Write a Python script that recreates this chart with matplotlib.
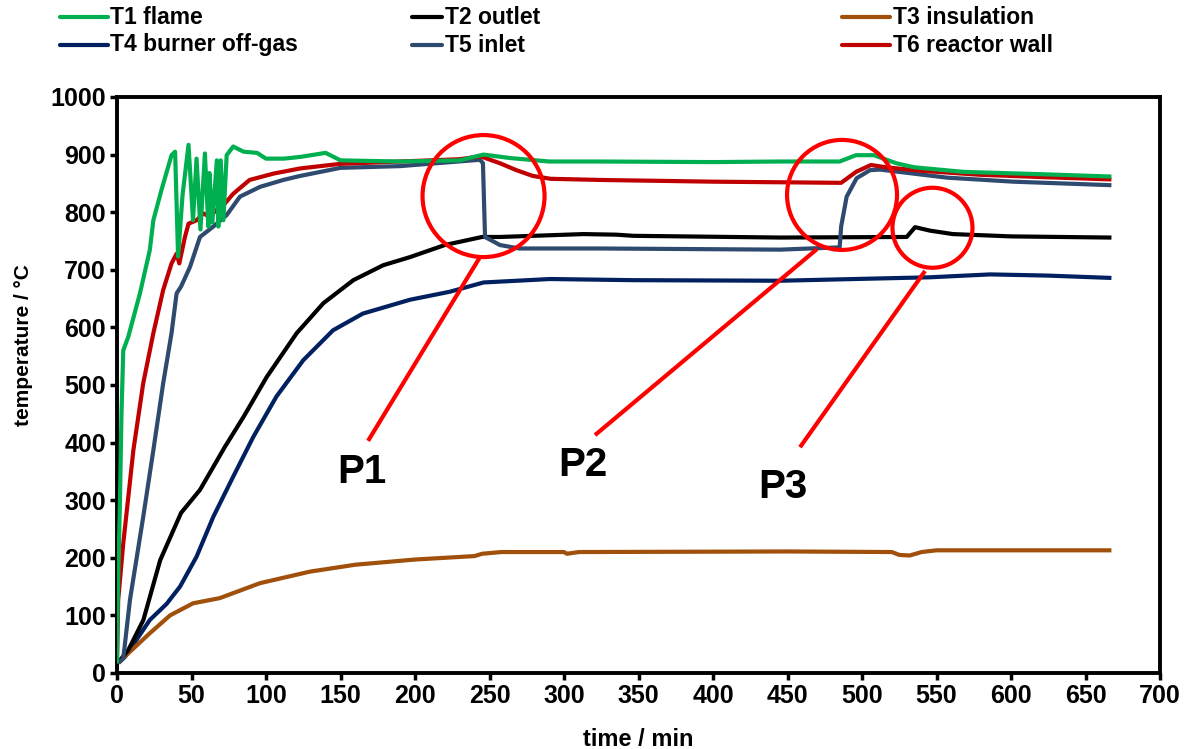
import matplotlib
matplotlib.use("Agg")
import matplotlib.pyplot as plt
from matplotlib.patches import Ellipse
from matplotlib.lines import Line2D

plt.rcParams['font.family'] = ['Liberation Sans', 'DejaVu Sans']
plt.rcParams['font.weight'] = 'bold'

# ---- measured temperatures (time in min, temperature in °C) ----
t1_time = [0, 0.5, 2, 3, 4.2, 7.6, 15.4, 22, 24.4, 30, 36.6, 39, 41, 44, 48, 51, 53.4, 56, 59,
           61.3, 62, 64, 67, 68, 69.6, 71.4, 73.6, 78, 85, 94, 100, 112, 123, 140, 150, 190,
           230, 246, 264, 290, 324, 400, 445, 485, 496, 508, 523, 535, 568, 620, 666]
t1_temp = [20, 130, 300, 450, 560, 584, 659, 734, 786, 840, 899, 905, 723, 830, 917, 786, 893, 770, 902,
           775, 868, 782, 890, 775, 890, 786, 899, 914, 905, 903, 893, 893, 896, 903, 890, 888,
           890, 900, 894, 888, 888, 887, 888, 888, 899, 899, 885, 878, 870, 866, 862]

t2_time = [2, 7.6, 17.7, 29, 43, 55.7, 72.5, 85, 100.5, 120.6, 138.5, 158.6, 178.7, 196.6, 220,
           245, 257, 313, 335, 346.5, 445, 530, 535.6, 545.6, 561, 600, 666]
t2_temp = [22, 40, 92, 196, 278, 318, 393, 445, 514, 590, 642, 682, 708, 722, 743,
           757, 757, 762, 761, 759, 756, 757, 774, 768, 762, 758, 756]

t3_time = [2, 5, 22, 35.6, 51, 69, 96, 129.5, 160, 200, 240, 245, 258, 300, 302, 310, 450,
           520, 525, 532, 540, 550, 666]
t3_temp = [20, 28, 69, 100, 121, 130, 156, 176, 188, 197, 203, 207, 210, 210, 207, 210, 211,
           210, 205, 204, 210, 213, 213]

t4_time = [2, 5.4, 22, 33.3, 42.3, 53.4, 64.6, 78, 91.5, 107, 125, 145, 165, 196.6, 223.5, 246,
           290.6, 346.5, 445, 512, 545.6, 586, 624, 666]
t4_temp = [22, 28, 92, 120, 150, 202, 271, 341, 410, 480, 543, 595, 624, 648, 662, 678,
           684, 682, 681, 685, 687, 692, 690, 686]

t5_time = [2, 4.2, 8.7, 17.6, 24.4, 31, 36.6, 40, 43, 49, 55.7, 64.6, 73.6, 82.5, 96, 111.6,
           123, 150, 190, 243.6, 245.6, 247, 257, 270, 324, 445, 485, 486, 489.7, 496.4,
           505.4, 512, 534.5, 557, 601.6, 666]
t5_temp = [20, 25, 127, 271, 387, 503, 590, 659, 671, 705, 757, 775, 795, 827, 844, 856,
           863, 877, 880, 891, 885, 757, 743, 737, 737, 735, 739, 775, 827, 859,
           873, 874, 867, 860, 853, 847]

t6_time = [0, 0.8, 4.2, 11, 17.6, 24.4, 31, 36.6, 40, 41.8, 45.6, 48, 53.4, 58, 62, 67, 71.4,
           78, 89, 105, 123, 150, 190, 230, 244, 257, 268, 279, 291, 324, 400, 486, 496,
           506, 516, 539, 579, 620, 666]
t6_temp = [20, 127, 225, 387, 503, 590, 665, 711, 728, 711, 757, 780, 786, 798, 792, 804, 812,
           832, 856, 867, 876, 884, 888, 892, 897, 885, 873, 863, 858, 856, 853, 851, 870,
           882, 878, 872, 865, 861, 857]

labels = ["T1 flame", "T2 outlet", "T3 insulation",
          "T4 burner off-gas", "T5 inlet", "T6 reactor wall"]
colors = ["#00B050", "#000000", "#A0500A", "#002060", "#2E4A6E", "#C00000"]

# highlighted events: circle centre (min, °C), radius in px, pointer line, label position
events = ["P1", "P2", "P3"]
event_centre = [(246, 828), (486.6, 830), (547.3, 773)]
event_radius_px = [61, 55, 40]
event_line = [((243.6, 722), (168.5, 403)),
              ((469.8, 736), (320.8, 413)),
              ((542.3, 698), (458.4, 392))]
event_text = [(164.4, 349), (312.8, 361), (447, 323)]

x_ticks = list(range(0, 701, 50))
y_ticks = list(range(0, 1001, 100))

W, H = 1189, 749
fig = plt.figure(figsize=(W / 100, H / 100), dpi=100)
ax = fig.add_axes([117 / W, 1 - 673 / H, (1160 - 117) / W, (673 - 97) / H])

series = [(t1_time, t1_temp), (t2_time, t2_temp), (t3_time, t3_temp),
          (t4_time, t4_temp), (t5_time, t5_temp), (t6_time, t6_temp)]
draw_order = [3, 2, 1, 4, 5, 0]
for z, i in enumerate(draw_order):
    tx, ty = series[i]
    ax.plot(tx, ty, color=colors[i], lw=3.0, solid_joinstyle='round', zorder=2 + z)

ax.set_xlim(0, 700)
ax.set_ylim(0, 1000)
ax.set_xticks(x_ticks)
ax.set_yticks(y_ticks)
ax.tick_params(direction='out', length=5, width=2.5, labelsize=18, pad=3)
for lab in ax.get_xticklabels() + ax.get_yticklabels():
    lab.set_fontweight('bold')
for s in ax.spines.values():
    s.set_linewidth(2.8)

ax.set_xlabel("time / min", fontsize=17, fontweight='bold')
ax.xaxis.set_label_coords(0.5, -0.095)
ax.set_ylabel("temperature / °C", fontsize=15, fontweight='bold')
ax.yaxis.set_label_coords(-0.081, 0.57)

# circles and pointer lines
px_per_min = (1160 - 117) / 700
px_per_deg = (673 - 97) / 1000
for name, (cx, cy), r, (p0, p1), (tx, ty) in zip(events, event_centre, event_radius_px,
                                                 event_line, event_text):
    ax.add_patch(Ellipse((cx, cy), 2 * r / px_per_min, 2 * r / px_per_deg,
                         fill=False, ec="#FF0000", lw=3.0, zorder=10))
    ax.plot([p0[0], p1[0]], [p0[1], p1[1]], color="#FF0000", lw=3.0, zorder=10,
            solid_capstyle='butt')
    ax.text(tx, ty, name, fontsize=29, fontweight='bold', ha='center', va='center', zorder=11)

# legend drawn in figure pixels
leg_rows = [17, 45]
leg_cols = [(60, 108, 110), (412, 442, 445), (842, 890, 893)]
for k, (lab, col) in enumerate(zip(labels, colors)):
    r, c = divmod(k, 3)
    x0, x1, xt = leg_cols[c]
    y = 1 - leg_rows[r] / H
    fig.add_artist(Line2D([x0 / W, x1 / W], [y, y], color=col, lw=3.0,
                          solid_capstyle='round', transform=fig.transFigure))
    fig.text(xt / W, y, lab, fontsize=16.5, fontweight='bold', ha='left', va='center')

fig.savefig("out.png", dpi=100)
